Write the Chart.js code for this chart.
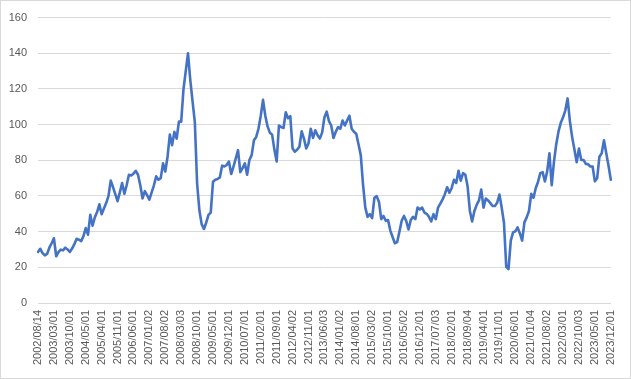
<!DOCTYPE html>
<html>
<head>
<meta charset="utf-8">
<script src="https://cdn.jsdelivr.net/npm/chart.js@4"></script>
<style>
  html, body { margin: 0; padding: 0; background: #ffffff; }
  #wrap { position: relative; width: 631px; height: 379px; }
</style>
</head>
<body>
<div id="wrap"><canvas id="c" width="631" height="379"></canvas></div>
<script>
// Tick labels shown on the category axis (every 7th observation)
const tickLabels = [
  "2002/08/14","2003/03/01","2003/10/01","2004/05/01","2005/04/01","2005/11/01",
  "2006/06/01","2007/01/02","2007/08/02","2008/03/03","2008/10/01","2009/05/01",
  "2009/12/01","2010/07/01","2011/02/01","2011/09/01","2012/04/02","2012/11/01",
  "2013/06/03","2014/01/02","2014/08/01","2015/03/02","2015/10/01","2016/05/02",
  "2016/12/01","2017/07/03","2018/02/01","2018/09/04","2019/04/01","2019/11/01",
  "2020/06/01","2021/01/04","2021/08/02","2022/03/01","2022/10/03","2023/05/01",
  "2023/12/01"
];
const labelEvery = 7;

const prices = [
  28.6, 30.4, 28.0, 26.7, 27.5, 31.0, 33.5, 36.3, 26.2, 28.5,
  29.9, 29.5, 31.0, 30.0, 28.6, 30.5, 33.0, 36.0, 35.5, 34.7,
  37.5, 42.0, 38.3, 49.4, 43.3, 48.0, 51.0, 55.3, 49.8, 53.0,
  56.0, 59.9, 68.6, 65.0, 61.0, 57.1, 62.0, 67.3, 61.2, 66.0,
  71.9, 71.5, 72.5, 74.1, 71.9, 66.0, 58.6, 62.7, 60.5, 58.0,
  62.0, 66.0, 71.0, 69.1, 70.0, 78.3, 73.7, 82.0, 94.4, 88.5,
  95.9, 92.2, 101.7, 101.7, 119.8, 130.0, 140.0, 125.0, 113.0, 101.4,
  67.0, 52.0, 44.2, 41.5, 45.0, 49.4, 50.7, 68.0, 69.1, 69.5,
  70.4, 77.0, 76.5, 77.4, 79.3, 72.3, 76.5, 81.0, 85.7, 73.4,
  75.6, 78.3, 71.9, 80.2, 82.9, 91.2, 93.1, 97.7, 105.0, 113.9,
  105.0, 99.0, 95.5, 94.4, 86.0, 79.3, 99.5, 98.6, 98.1, 106.9,
  103.6, 104.7, 86.6, 84.8, 86.0, 87.6, 96.2, 92.2, 86.6, 89.4,
  97.7, 92.5, 96.8, 94.0, 92.2, 95.5, 104.0, 107.3, 102.0, 99.5,
  92.5, 96.0, 98.6, 97.7, 102.3, 99.5, 102.3, 105.0, 97.7, 96.0,
  94.9, 89.0, 82.9, 66.4, 53.5, 48.3, 49.8, 47.6, 59.0, 59.9,
  56.8, 47.0, 48.8, 46.1, 46.5, 40.6, 37.0, 33.5, 34.1, 40.0,
  46.1, 48.8, 46.0, 41.2, 46.5, 48.3, 47.0, 53.5, 52.5, 53.5,
  50.7, 50.0, 48.3, 45.7, 49.8, 47.0, 53.5, 55.7, 58.1, 61.0,
  64.9, 61.8, 64.5, 69.1, 67.3, 74.1, 68.6, 72.8, 71.9, 65.4,
  51.6, 45.7, 51.6, 55.0, 57.5, 63.6, 53.5, 58.6, 57.5, 56.0,
  54.4, 54.4, 56.2, 60.8, 53.5, 45.0, 20.3, 19.0, 35.0, 39.6,
  40.2, 42.4, 39.0, 35.0, 45.2, 48.0, 51.6, 61.2, 59.0, 64.5,
  68.0, 72.8, 73.4, 68.2, 73.7, 83.9, 66.0, 79.3, 89.0, 96.2,
  101.0, 104.1, 108.0, 114.7, 102.0, 93.0, 86.0, 78.9, 86.6, 80.2,
  80.2, 78.0, 77.8, 76.5, 76.5, 68.2, 70.0, 82.0, 83.9, 91.2,
  84.0, 77.0, 69.1
];

const yMin = 0, yMax = 160, yStep = 20;

const categories = prices.map((_, i) => i);

const frame = {
  id: 'frame',
  beforeDraw(chart) {
    const ctx = chart.ctx;
    ctx.save();
    ctx.fillStyle = '#ffffff';
    ctx.fillRect(0, 0, chart.width, chart.height);
    ctx.strokeStyle = '#d9d9d9';
    ctx.lineWidth = 1;
    ctx.strokeRect(0.5, 0.5, chart.width - 1, chart.height - 1);
    ctx.restore();
  }
};

new Chart(document.getElementById('c'), {
  type: 'line',
  data: {
    labels: categories,
    datasets: [{
      data: prices,
      borderColor: '#4472C4',
      borderWidth: 2.6,
      pointRadius: 0,
      tension: 0,
      borderJoinStyle: 'round',
      borderCapStyle: 'round',
      fill: false
    }]
  },
  options: {
    responsive: false,
    animation: false,
    devicePixelRatio: 1,
    layout: { padding: { left: 0, right: 15, top: 14, bottom: 0 } },
    plugins: { legend: { display: false }, tooltip: { enabled: false } },
    scales: {
      x: {
        type: 'category',
        offset: false,
        grid: { display: false, drawTicks: false },
        border: { display: true, color: '#d9d9d9', width: 1 },
        ticks: {
          autoSkip: false,
          maxRotation: 90,
          minRotation: 90,
          padding: 7,
          color: '#595959',
          font: { family: 'Liberation Sans', size: 11 },
          callback: (v, i) => (i % labelEvery === 0 ? tickLabels[i / labelEvery] : '')
        },
        afterFit: s => { s.height = 76; }
      },
      y: {
        min: yMin, max: yMax,
        grid: { color: '#d9d9d9', lineWidth: 1, drawTicks: false },
        border: { display: false },
        ticks: {
          stepSize: yStep,
          padding: 11,
          color: '#595959',
          font: { family: 'Liberation Sans', size: 11 }
        },
        afterFit: s => { s.width = 38; }
      }
    }
  },
  plugins: [frame]
});
</script>
</body>
</html>
